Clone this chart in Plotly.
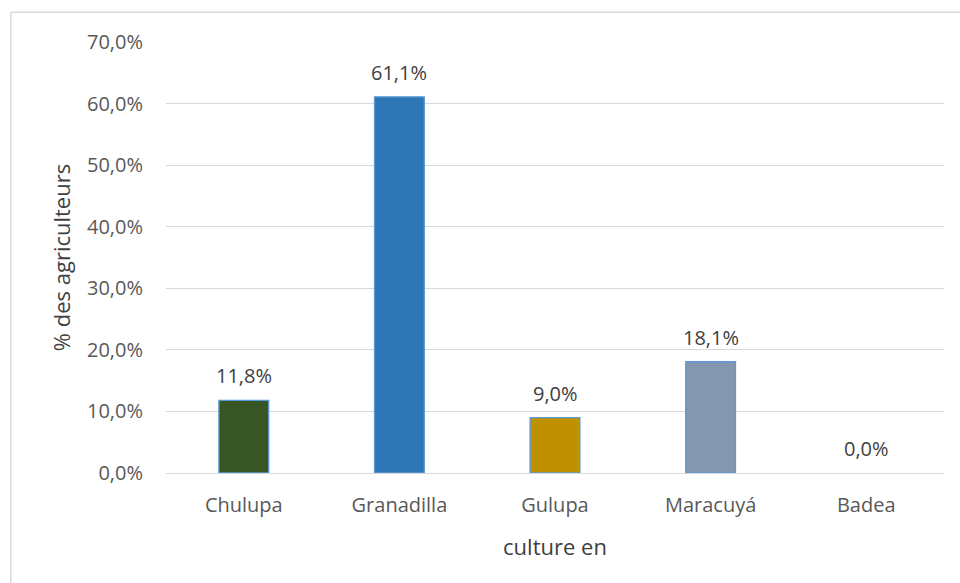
import plotly.graph_objects as go

# Share of farmers per crop
categories = ["Chulupa", "Granadilla", "Gulupa", "Maracuyá", "Badea"]
shares = [11.8, 61.1, 9.0, 18.1, 0.0]
bar_colors = ["#375623", "#2E75B6", "#BF9000", "#8497B0", "#A5A5A5"]
tick_values = [0, 10, 20, 30, 40, 50, 60, 70]
tick_labels = [f"{v:.1f}%".replace(".", ",") for v in tick_values]

FONT = "Open Sans"
TICK_COLOR = "#595959"
TITLE_COLOR = "#404040"

# No outline on empty bars
outline_widths = [1.3 if v > 0 else 0 for v in shares]

fig = go.Figure()
fig.add_trace(go.Bar(
    x=categories,
    y=shares,
    marker=dict(color=bar_colors, line=dict(color="#5B9BD5", width=outline_widths)),
    width=0.32,
    hoverinfo="skip",
))

# Value labels above each bar
for cat, val in zip(categories, shares):
    fig.add_annotation(
        x=cat, y=val, xref="x", yref="y",
        text=f"{val:.1f}%".replace(".", ","),
        showarrow=False, yanchor="bottom", yshift=9,
        font=dict(family=FONT, size=20, color=TITLE_COLOR),
    )

# Outer chart frame (top and left edges)
fig.add_shape(type="line", xref="paper", yref="paper",
              x0=-0.1995, x1=1.03, y0=1.069, y1=1.069,
              line=dict(color="#D9D9D9", width=1.5))
fig.add_shape(type="line", xref="paper", yref="paper",
              x0=-0.1995, x1=-0.1995, y0=-0.3, y1=1.069,
              line=dict(color="#D9D9D9", width=1.5))

fig.update_layout(
    width=960, height=583,
    margin=dict(l=166, r=16, t=42, b=110),
    plot_bgcolor="white", paper_bgcolor="white",
    showlegend=False,
    font=dict(family=FONT, color=TICK_COLOR),
    xaxis=dict(
        title=dict(text="culture en", font=dict(family=FONT, size=22, color=TITLE_COLOR), standoff=22),
        tickfont=dict(family=FONT, size=20, color=TICK_COLOR),
        showgrid=False, showline=False, ticks="",
        ticklabelstandoff=18,
    ),
    yaxis=dict(
        title=dict(text="% des agriculteurs", font=dict(family=FONT, size=22, color=TITLE_COLOR), standoff=10),
        range=[0, 70],
        tickvals=tick_values, ticktext=tick_labels,
        tickfont=dict(family=FONT, size=20, color=TICK_COLOR),
        showgrid=True, gridcolor="#D9D9D9", gridwidth=1.3,
        zeroline=True, zerolinecolor="#D9D9D9", zerolinewidth=1.3,
        showline=False, ticks="",
        ticklabelstandoff=22,
    ),
)

fig.write_html("out.html")
